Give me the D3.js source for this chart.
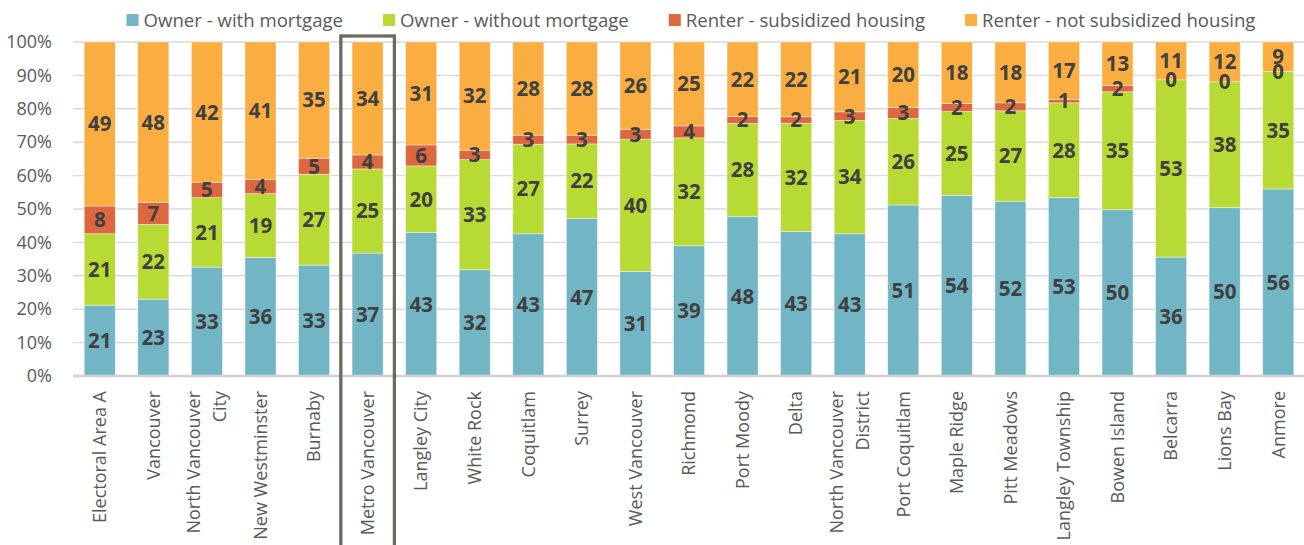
<!DOCTYPE html>
<meta charset="utf-8">
<script src="https://d3js.org/d3.v7.min.js"></script>
<style>
  body { margin: 0; background: #fff; }
  text { font-family: "Open Sans", sans-serif; }
</style>
<div id="chart"></div>
<script>

// places along the x axis ("\n" = line break in the label)
var places = ["Electoral Area A", "Vancouver", "North Vancouver\nCity", "New Westminster", "Burnaby",
  "Metro Vancouver", "Langley City", "White Rock", "Coquitlam", "Surrey", "West Vancouver",
  "Richmond", "Port Moody", "Delta", "North Vancouver\nDistrict", "Port Coquitlam", "Maple Ridge",
  "Pitt Meadows", "Langley Township", "Bowen Island", "Belcarra", "Lions Bay", "Anmore"];

var seriesNames = ["Owner - with mortgage", "Owner - without mortgage",
  "Renter - subsidized housing", "Renter - not subsidized housing"];

// share of households, %
var withMortgage    = [21.2, 23.0, 32.6, 35.5, 33.2, 36.8, 43.0, 31.8, 42.6, 47.2, 31.3, 39.0, 47.7, 43.3, 42.6, 51.2, 54.1, 52.3, 53.4, 49.8, 35.6, 50.4, 56.0];
var withoutMortgage = [21.4, 22.4, 20.8, 19.1, 27.2, 25.2, 19.9, 33.0, 26.8, 22.3, 39.6, 32.3, 27.9, 32.4, 33.9, 25.9, 25.1, 27.1, 28.4, 35.3, 53.1, 37.7, 35.2];
var subsidized      = [ 8.3,  6.6,  4.6,  4.2,  4.8,  4.2,  6.3,  2.8,  2.7,  2.6,  2.9,  3.6,  2.1,  1.9,  2.6,  3.3,  2.4,  2.4,  1.0,  1.9,  0.0,  0.0,  0.0];
var notSubsidized   = [49.1, 48.0, 42.0, 41.2, 34.8, 33.8, 30.8, 32.4, 27.9, 27.9, 26.2, 25.1, 22.3, 22.4, 20.9, 19.6, 18.4, 18.2, 17.2, 13.0, 11.3, 11.9,  8.8];

var yTicks = [0, 10, 20, 30, 40, 50, 60, 70, 80, 90, 100];

var colors = ["#72b6c6", "#b7da34", "#dd673e", "#faae42"];
var highlight = "Metro Vancouver";

// table for d3.stack
var rows = places.map(function(p, i) {
  var r = { place: p };
  r[seriesNames[0]] = withMortgage[i];
  r[seriesNames[1]] = withoutMortgage[i];
  r[seriesNames[2]] = subsidized[i];
  r[seriesNames[3]] = notSubsidized[i];
  return r;
});

var margin = {top: 42, right: 0, bottom: 169, left: 73},
    width = 1304 - margin.left - margin.right,
    height = 545 - margin.top - margin.bottom;

var svgRoot = d3.select("#chart")
  .append("svg")
    .attr("width", 1304)
    .attr("height", 545);

var svg = svgRoot.append("g")
    .attr("transform", "translate(" + margin.left + "," + margin.top + ")");

var x = d3.scaleBand()
  .domain(places)
  .range([0, width + 1])
  .paddingInner(0.42)
  .paddingOuter(0.21);

var y = d3.scaleLinear()
  .domain([0, 100])
  .range([height, 0]);

// gridlines
svg.selectAll("grid")
  .data(yTicks.slice(1))
  .enter()
  .append("line")
    .attr("x1", 0)
    .attr("x2", width)
    .attr("y1", function(d) { return y(d); })
    .attr("y2", function(d) { return y(d); })
    .attr("stroke", "#d9d9d9")
    .attr("stroke-width", 1.4);

// Y axis
var yAxis = svg.append("g")
  .call(d3.axisLeft(y).tickValues(yTicks).tickSize(0).tickPadding(21)
    .tickFormat(function(d) { return d + "%"; }));
yAxis.select(".domain").remove();
yAxis.selectAll("text")
  .style("font-family", "Open Sans")
  .style("font-size", "18px")
  .attr("fill", "#595959");

// stacked bars
var stacked = d3.stack().keys(seriesNames)(rows);

var layers = svg.selectAll("layer")
  .data(stacked)
  .enter()
  .append("g")
    .attr("fill", function(d, i) { return colors[i]; });

layers.selectAll("rect")
  .data(function(d) { return d; })
  .enter()
  .append("rect")
    .attr("x", function(d) { return x(d.data.place); })
    .attr("y", function(d) { return y(d[1]); })
    .attr("width", x.bandwidth())
    .attr("height", function(d) { return y(d[0]) - y(d[1]); })
    .attr("stroke", "#ffffff")
    .attr("stroke-opacity", 0.5)
    .attr("stroke-width", 0.8);

// X axis
var xAxis = svg.append("g")
  .attr("transform", "translate(0," + height + ")")
  .call(d3.axisBottom(x).tickSize(0).tickFormat(""));
xAxis.select(".domain")
  .attr("stroke", "#d0d0d0")
  .attr("stroke-width", 2.4)
  .attr("d", "M0,0H" + width);

xAxis.selectAll(".tick text")
  .attr("transform", "rotate(-90)")
  .attr("x", -15)
  .attr("y", 0)
  .attr("dy", null)
  .style("text-anchor", "end")
  .style("font-family", "Open Sans")
  .style("font-size", "18px")
  .attr("fill", "#595959")
  .each(function(d) {
    var lines = d.split("\n");
    var t = d3.select(this);
    var lh = 26.5;
    var first = 6.3 - (lines.length - 1) * lh / 2;
    lines.forEach(function(l, i) {
      t.append("tspan")
        .attr("x", -15)
        .attr("dy", i === 0 ? first : lh)
        .text(l);
    });
  });

// data labels, drawn above every bar
var labels = svg.append("g");
stacked.forEach(function(layer) {
  labels.selectAll("label")
    .data(layer)
    .enter()
    .append("text")
      .attr("x", function(d) { return x(d.data.place) + x.bandwidth() / 2; })
      .attr("y", function(d) { return (y(d[0]) + y(d[1])) / 2; })
      .attr("dy", "0.36em")
      .attr("text-anchor", "middle")
      .attr("fill", "#404040")
      .style("font-size", "20.5px")
      .style("font-weight", "bold")
      .text(function(d) { return Math.round(d[1] - d[0]); });
});

// box round Metro Vancouver
svg.append("rect")
  .attr("x", x(highlight) - x.step() * x.paddingInner() / 2)
  .attr("y", -6)
  .attr("width", x.step())
  .attr("height", 560)
  .attr("fill", "none")
  .attr("stroke", "#6b6b60")
  .attr("stroke-width", 3.3);

// legend
var legend = svgRoot.append("g");
var cursor = 0;
seriesNames.forEach(function(name, i) {
  var item = legend.append("g").attr("transform", "translate(" + cursor + ",0)");
  item.append("rect")
    .attr("x", 0).attr("y", 14)
    .attr("width", 12).attr("height", 12)
    .style("fill", colors[i]);
  var t = item.append("text")
    .attr("x", 17).attr("y", 27)
    .text(name)
    .style("font-size", "18.6px")
    .attr("fill", "#595959");
  cursor += 17 + t.node().getComputedTextLength() + 40;
});
var legendWidth = cursor - 40;
legend.attr("transform", "translate(" + (691 - legendWidth / 2) + ",0)");

</script>
